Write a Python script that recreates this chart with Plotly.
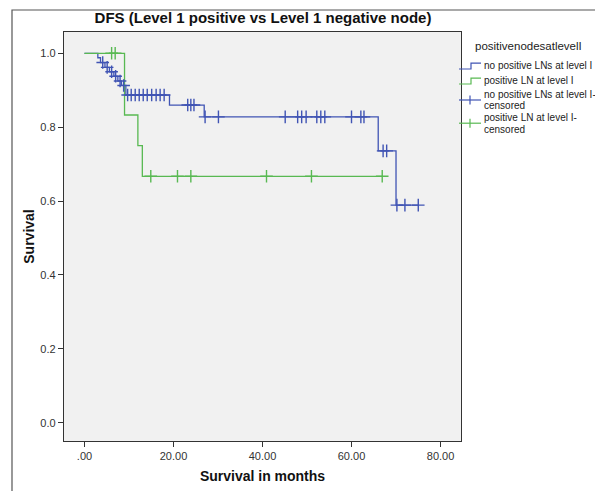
import numpy as np
import plotly.graph_objects as go

# ---- data ----
neg_event_t = [3.0, 3.6, 4.6, 5.6, 6.6, 7.5, 8.3, 9.3, 19.1, 26.9, 66.0, 70.0]
neg_event_s = [0.988, 0.975, 0.962, 0.950, 0.938, 0.925, 0.913, 0.887, 0.860, 0.828, 0.736, 0.589]
neg_censor_t = [4.1, 5.1, 6.1, 7.0, 8.0, 8.8, 9.7, 10.5, 11.4, 12.3, 13.2, 14.1, 15.1,
                16.1, 17.0, 17.9, 23.2, 23.9, 24.6, 27.1, 30.1, 45.1, 47.9, 48.8, 49.8,
                52.2, 53.1, 54.0, 60.0, 62.1, 62.8, 67.1, 67.9, 70.2, 72.0, 75.0]
neg_end = 75.0

pos_event_t = [9.0, 12.0, 13.0]
pos_event_s = [0.833, 0.750, 0.667]
pos_censor_t = [6.1, 6.9, 14.9, 20.9, 23.9, 40.9, 51.0, 66.9]
pos_end = 67.0

x_ticks = [0, 20, 40, 60, 80]
x_tick_labels = [".00", "20.00", "40.00", "60.00", "80.00"]
y_ticks = [0.0, 0.2, 0.4, 0.6, 0.8, 1.0]
y_tick_labels = ["0.0", "0.2", "0.4", "0.6", "0.8", "1.0"]

legend_title = "positivenodesatlevelI"
names = ["no positive LNs at level I", "positive LN at level I",
         "no positive LNs at level I-\ncensored", "positive LN at level I-\ncensored"]

BLUE = "#4054b4"
GREEN = "#58b952"


def step_xy(ev_t, ev_s, end):
    return [0.0] + ev_t + [end], [1.0] + ev_s + [ev_s[-1]]


def surv_at(ev_t, ev_s, ts):
    idx = np.searchsorted(np.array(ev_t), np.array(ts), side="right")
    levels = np.array([1.0] + ev_s)
    return levels[idx].tolist()


fig = go.Figure()
nx, ny = step_xy(neg_event_t, neg_event_s, neg_end)
px_, py_ = step_xy(pos_event_t, pos_event_s, pos_end)

fig.add_trace(go.Scatter(x=nx, y=ny, mode="lines", line=dict(color=BLUE, width=1.3, shape="hv"),
                         name=names[0].replace("\n", " "), showlegend=False))
fig.add_trace(go.Scatter(x=px_, y=py_, mode="lines", line=dict(color=GREEN, width=1.3, shape="hv"),
                         name=names[1].replace("\n", " "), showlegend=False))
fig.add_trace(go.Scatter(x=neg_censor_t, y=surv_at(neg_event_t, neg_event_s, neg_censor_t),
                         mode="markers", name=names[2].replace("\n", " "), showlegend=False,
                         marker=dict(symbol="cross-thin", size=9, line=dict(color=BLUE, width=1.4))))
fig.add_trace(go.Scatter(x=pos_censor_t, y=surv_at(pos_event_t, pos_event_s, pos_censor_t),
                         mode="markers", name=names[3].replace("\n", " "), showlegend=False,
                         marker=dict(symbol="cross-thin", size=9, line=dict(color=GREEN, width=1.4))))

# page body has an 8px margin: figure is offset by 8px in the screenshot
OFF = 8
W, H = 603 - OFF, 491 - OFF
# plot area in screen pixels
L, R, T, B = 64, 461, 32, 441
pw, ph = R - L, B - T


def pxx(v):
    return (v - L) / pw


def pxy(v):
    return (B - v) / ph


# outer frame
fig.add_shape(type="rect", xref="paper", yref="paper",
              x0=pxx(12), x1=pxx(620), y0=pxy(520), y1=pxy(10),
              line=dict(color="#555555", width=1.2), fillcolor="rgba(0,0,0,0)", layer="below")

# manual legend
lf = dict(size=10, color="#222222")
fig.add_annotation(text=legend_title, xref="paper", yref="paper",
                   x=pxx(473), y=pxy(46.5), xanchor="left", yanchor="middle",
                   showarrow=False, font=dict(size=11.5, color="#222222"))

legend_items = [
    (names[0], BLUE, "step", 65.7),
    (names[1], GREEN, "step", 80.7),
    (names[2], BLUE, "cross", 100.0),
    (names[3], GREEN, "cross", 123.2),
]
for text, col, kind, yc in legend_items:
    if kind == "step":
        path = (f"M {pxx(459)},{pxy(yc + 3.3)} L {pxx(471)},{pxy(yc + 3.3)} "
                f"L {pxx(471)},{pxy(yc - 2.5)} L {pxx(481)},{pxy(yc - 2.5)}")
        fig.add_shape(type="path", xref="paper", yref="paper", path=path,
                      line=dict(color=col, width=1.2))
        fig.add_annotation(text=text, xref="paper", yref="paper", x=pxx(481.5), y=pxy(yc),
                           xanchor="left", yanchor="middle", showarrow=False, font=lf)
    else:
        fig.add_shape(type="line", xref="paper", yref="paper",
                      x0=pxx(459), x1=pxx(481), y0=pxy(yc), y1=pxy(yc),
                      line=dict(color=col, width=1.2))
        fig.add_shape(type="line", xref="paper", yref="paper",
                      x0=pxx(470), x1=pxx(470), y0=pxy(yc - 4.5), y1=pxy(yc + 4.5),
                      line=dict(color=col, width=1.2))
        l1, l2 = text.split("\n")
        fig.add_annotation(text=l1, xref="paper", yref="paper", x=pxx(481.5), y=pxy(yc - 5.8),
                           xanchor="left", yanchor="middle", showarrow=False, font=lf)
        fig.add_annotation(text=l2, xref="paper", yref="paper", x=pxx(481.5), y=pxy(yc + 5.8),
                           xanchor="left", yanchor="middle", showarrow=False, font=lf)

font = "Liberation Sans, Arial, sans-serif"
fig.update_layout(
    width=W, height=H,
    margin=dict(l=L - OFF, r=W - (R - OFF), t=T - OFF, b=H - (B - OFF), autoexpand=False),
    paper_bgcolor="white", plot_bgcolor="#f1f1f1",
    font=dict(family=font, size=11, color="#222222"),
    title=dict(text="<b>DFS (Level 1 positive vs Level 1 negative node)</b>",
               x=(263 - OFF) / W, xanchor="center",
               y=1 - (18 - OFF) / H, yanchor="middle", font=dict(size=15, color="#111111")),
    showlegend=False,
    xaxis=dict(range=[-4.6, 84.6], tickvals=x_ticks, ticktext=x_tick_labels,
               showgrid=False, zeroline=False, showline=True, linecolor="#333333", linewidth=1.3,
               mirror=True, ticks="outside", ticklen=5, tickcolor="#333333",
               tickfont=dict(size=11, color="#333333"),
               title=dict(text="<b>Survival in months</b>", font=dict(size=14, color="#111111"),
                          standoff=9)),
    yaxis=dict(range=[-0.0495, 1.0577], tickvals=y_ticks, ticktext=y_tick_labels,
               showgrid=False, zeroline=False, showline=True, linecolor="#333333", linewidth=1.3,
               mirror=True, ticks="outside", ticklen=5, tickcolor="#333333",
               tickfont=dict(size=11, color="#333333"),
               title=dict(text="<b>Survival</b>", font=dict(size=14, color="#111111"),
                          standoff=2)),
)

fig.write_html("out.html")
